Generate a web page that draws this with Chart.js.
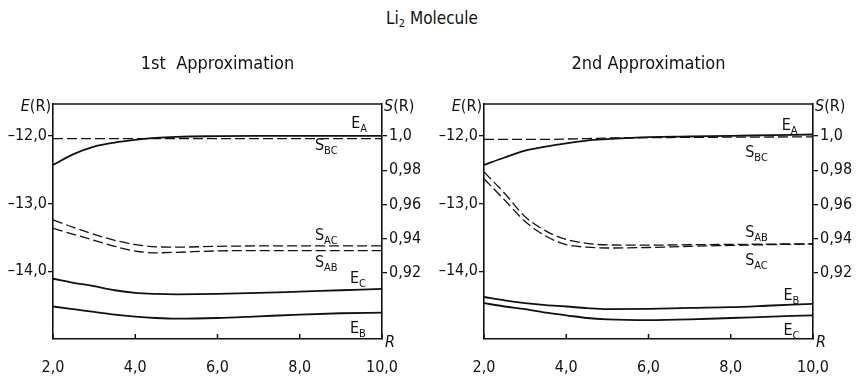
<!DOCTYPE html>
<html lang="en">
<head>
  <meta charset="UTF-8" />
  <title>Li2 Molecule</title>
  <style>
    body {
      margin: 0;
      background: #fff;
      width: 856px;
      height: 384px;
      position: relative;
      overflow: hidden;
      font-family: 'Liberation Sans Narrow', 'DejaVu Sans Condensed', 'Liberation Sans', sans-serif;
      color: #111;
    }
    #mainTitle {
      position: absolute;
      left: 4px;
      width: 856px;
      top: 10px;
      text-align: center;
      font-size: 17px;
      line-height: 17px;
    }
    #mainTitle sub {
      font-size: 11px;
      line-height: 0;
      vertical-align: -3px;
    }
    .panel {
      position: absolute;
      top: 0;
      width: 428px;
      height: 384px;
    }
    #leftPanel { left: 0; }
    #rightPanel { left: 428px; }
  </style>
</head>
<body>
  <div id="mainTitle">Li<sub>2</sub> Molecule</div>
  <div class="panel" id="leftPanel"><canvas id="chart1"></canvas></div>
  <div class="panel" id="rightPanel"><canvas id="chart2"></canvas></div>

  <script src="https://cdn.jsdelivr.net/npm/chart.js"></script>
  <script>
    // internuclear distance R
    const rValues = [2, 2.5, 3, 3.5, 4, 4.5, 5, 6, 7, 8, 9, 10];

    // 1st approximation
    const eA1 = [-12.43, -12.27, -12.16, -12.10, -12.06, -12.03, -12.015, -12.005, -12.0, -12.0, -12.0, -12.0];
    const eB1 = [-14.52, -14.56, -14.60, -14.64, -14.67, -14.69, -14.70, -14.69, -14.665, -14.64, -14.62, -14.61];
    const eC1 = [-14.11, -14.17, -14.22, -14.28, -14.32, -14.335, -14.34, -14.335, -14.32, -14.30, -14.28, -14.26];
    const sBC1 = [0.9985, 0.9985, 0.9985, 0.9985, 0.9985, 0.9985, 0.9985, 0.9985, 0.9985, 0.9985, 0.9985, 0.9985];
    const sAC1 = [0.951, 0.9465, 0.9425, 0.939, 0.9365, 0.9352, 0.935, 0.9355, 0.9357, 0.9357, 0.9357, 0.9357];
    const sAB1 = [0.946, 0.9425, 0.939, 0.9355, 0.9327, 0.9317, 0.932, 0.9328, 0.933, 0.933, 0.933, 0.933];

    // 2nd approximation
    const eA2 = [-12.43, -12.32, -12.22, -12.16, -12.11, -12.07, -12.05, -12.02, -12.01, -12.0, -11.99, -11.98];
    const eB2 = [-14.38, -14.43, -14.47, -14.50, -14.52, -14.545, -14.56, -14.555, -14.54, -14.53, -14.505, -14.48];
    const eC2 = [-14.47, -14.52, -14.56, -14.61, -14.65, -14.69, -14.71, -14.72, -14.71, -14.69, -14.67, -14.65];
    const sBC2 = [0.998, 0.998, 0.998, 0.998, 0.9982, 0.9985, 0.9988, 0.999, 0.9992, 0.9993, 0.9994, 0.9995];
    const sAB2 = [0.979, 0.9665, 0.9528, 0.9445, 0.9395, 0.9372, 0.9363, 0.9362, 0.9364, 0.9366, 0.9368, 0.937];
    const sAC2 = [0.975, 0.9626, 0.950, 0.9415, 0.9365, 0.935, 0.9345, 0.9348, 0.9355, 0.936, 0.9365, 0.9368];

    // ticks
    const rTicks = [2, 4, 6, 8, 10];
    const rTickLabels = ['2,0', '4,0', '6,0', '8,0', '10,0'];
    const eTicks = [-14, -13, -12];
    const eTickLabels = ['\u201314,0', '\u201313,0', '\u201312,0'];
    const sTicks = [0.92, 0.94, 0.96, 0.98, 1.0];
    const sTickLabels = ['0,92', '0,94', '0,96', '0,98', '1,0'];

    const FONT = "'Liberation Sans Narrow', 'DejaVu Sans Condensed', 'Liberation Sans', sans-serif";
    const INK = '#111';
    Chart.defaults.font.family = FONT;
    Chart.defaults.color = INK;

    function pts(ys) {
      return rValues.map((r, i) => ({ x: r, y: ys[i] }));
    }

    function solid(ys) {
      return { data: pts(ys), yAxisID: 'yE', borderColor: INK, borderWidth: 1.8, pointRadius: 0, cubicInterpolationMode: 'monotone' };
    }
    function dashed(ys) {
      return { data: pts(ys), yAxisID: 'yS', borderColor: INK, borderWidth: 1.3, borderDash: [10, 4], pointRadius: 0, cubicInterpolationMode: 'monotone' };
    }

    // frame top, inward x ticks, axis names, curve labels, panel title
    const decor = {
      id: 'decor',
      afterDraw(chart, args, opts) {
        const ctx = chart.ctx;
        const a = chart.chartArea;
        const xs = chart.scales.x, ye = chart.scales.yE;
        ctx.save();
        ctx.strokeStyle = INK;
        ctx.fillStyle = INK;
        ctx.lineWidth = 1.5;
        ctx.beginPath();
        ctx.moveTo(a.left, a.top);
        ctx.lineTo(a.right, a.top);
        rTicks.forEach(v => {
          const px = xs.getPixelForValue(v);
          ctx.moveTo(px, a.bottom);
          ctx.lineTo(px, a.bottom - 5);
        });
        ctx.stroke();

        ctx.textBaseline = 'alphabetic';
        // panel title
        ctx.font = `18px ${FONT}`;
        ctx.textAlign = 'center';
        ctx.fillText(opts.title, (a.left + a.right) / 2, 69);

        // axis names
        ctx.textAlign = 'left';
        ctx.font = `16px ${FONT}`;
        const rw = ctx.measureText('(R)').width;
        ctx.font = `italic 16px ${FONT}`;
        const ew = ctx.measureText('E').width;
        ctx.fillText('E', a.left - 2 - rw - ew, a.top + 7);
        ctx.fillText('S', a.right + 2, a.top + 7);
        const sw = ctx.measureText('S').width;
        ctx.fillText('R', a.right + 3, a.bottom + 8);
        ctx.font = `16px ${FONT}`;
        ctx.fillText('(R)', a.left - 2 - rw, a.top + 7);
        ctx.fillText('(R)', a.right + 2 + sw, a.top + 7);

        // curve labels
        opts.labels.forEach(l => {
          const px = xs.getPixelForValue(l.r);
          const py = ye.getPixelForValue(l.e);
          ctx.font = `16px ${FONT}`;
          ctx.fillText(l.main, px, py);
          const w = ctx.measureText(l.main).width;
          ctx.font = `11px ${FONT}`;
          ctx.fillText(l.sub, px + w, py + 4);
        });
        ctx.restore();
      }
    };

    function makeChart(id, datasets, title, labels, leftW, rightW) {
      return new Chart(document.getElementById(id), {
        type: 'line',
        data: { datasets },
        plugins: [decor],
        options: {
          responsive: false,
          animation: false,
          events: [],
          layout: { padding: { top: 104, left: 0, right: 0, bottom: 0 } },
          plugins: {
            legend: { display: false },
            tooltip: { enabled: false },
            decor: { title, labels }
          },
          scales: {
            x: {
              type: 'linear',
              min: 2,
              max: 10,
              afterBuildTicks: s => { s.ticks = rTicks.map(v => ({ value: v })); },
              afterFit: s => { s.height = 45; },
              grid: { display: false, drawTicks: false },
              border: { display: true, color: INK, width: 1.6 },
              ticks: {
                padding: 19,
                maxRotation: 0,
                font: { size: 16 },
                callback: v => rTickLabels[rTicks.indexOf(v)]
              }
            },
            yE: {
              type: 'linear',
              position: 'left',
              min: -15.0,
              max: -11.53,
              afterBuildTicks: s => { s.ticks = eTicks.map(v => ({ value: v })); },
              afterFit: s => { s.width = leftW; },
              grid: { drawOnChartArea: false, drawTicks: true, tickLength: 5, color: INK, lineWidth: 1.3 },
              border: { display: true, color: INK, width: 1.6 },
              ticks: {
                padding: 1,
                font: { size: 16 },
                callback: v => eTickLabels[eTicks.indexOf(v)]
              }
            },
            yS: {
              type: 'linear',
              position: 'right',
              min: 0.8813,
              max: 1.0187,
              afterBuildTicks: s => { s.ticks = sTicks.map(v => ({ value: v })); },
              afterFit: s => { s.width = rightW; },
              grid: { drawOnChartArea: false, drawTicks: true, tickLength: 5, color: INK, lineWidth: 1.3 },
              border: { display: true, color: INK, width: 1.6 },
              ticks: {
                padding: 2,
                font: { size: 16 },
                callback: v => sTickLabels[sTicks.indexOf(v)]
              }
            }
          }
        }
      });
    }

    ['chart1', 'chart2'].forEach(id => {
      const c = document.getElementById(id);
      c.width = 428;
      c.height = 384;
    });

    makeChart('chart1',
      [solid(eA1), solid(eC1), solid(eB1), dashed(sBC1), dashed(sAC1), dashed(sAB1)],
      '1st  Approximation',
      [
        { main: 'E', sub: 'A', r: 9.25, e: -11.884 },
        { main: 'S', sub: 'BC', r: 8.37, e: -12.21 },
        { main: 'S', sub: 'AC', r: 8.37, e: -13.535 },
        { main: 'S', sub: 'AB', r: 8.37, e: -13.93 },
        { main: 'E', sub: 'C', r: 9.22, e: -14.173 },
        { main: 'E', sub: 'B', r: 9.22, e: -14.905 }
      ],
      53, 46);

    makeChart('chart2',
      [solid(eA2), solid(eB2), solid(eC2), dashed(sBC2), dashed(sAB2), dashed(sAC2)],
      '2nd Approximation',
      [
        { main: 'E', sub: 'A', r: 9.24, e: -11.914 },
        { main: 'S', sub: 'BC', r: 8.35, e: -12.308 },
        { main: 'S', sub: 'AB', r: 8.35, e: -13.49 },
        { main: 'S', sub: 'AC', r: 8.35, e: -13.908 },
        { main: 'E', sub: 'B', r: 9.28, e: -14.424 },
        { main: 'E', sub: 'C', r: 9.28, e: -14.941 }
      ],
      56, 43);
  </script>
</body>
</html>
